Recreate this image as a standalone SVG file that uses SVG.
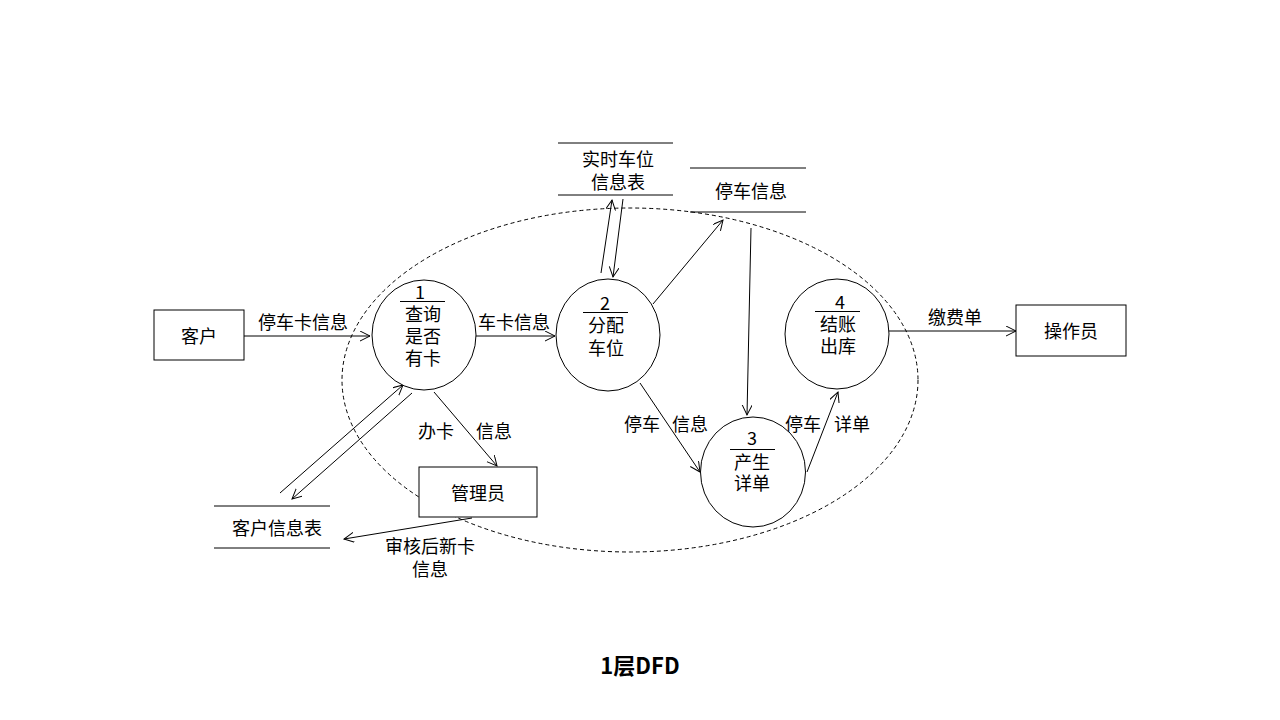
<svg xmlns="http://www.w3.org/2000/svg" width="1280" height="720" viewBox="0 0 1280 720">
<defs>
<style>
text{font-family:"Noto Sans CJK SC","Liberation Sans",sans-serif;font-size:18px;fill:#000;text-anchor:middle;dominant-baseline:central}
.box{fill:#fff;stroke:#000;stroke-width:1}
.proc{fill:#fff;stroke:#000;stroke-width:1}
.st{stroke:#000;stroke-width:1;fill:none}
.c{stroke:#000;stroke-width:1;fill:none;marker-end:url(#ah)}
.title{font-size:22px;font-weight:bold}
</style>
<marker id="ah" markerWidth="12" markerHeight="12" refX="10" refY="5" orient="auto" markerUnits="userSpaceOnUse">
<path d="M0,0 L10,5 L0,10" fill="none" stroke="#000" stroke-width="1"/>
</marker>
</defs>
<rect width="1280" height="720" fill="#fff"/>
<ellipse id="boundary" cx="630" cy="380" rx="288" ry="172" fill="none" stroke="#000" stroke-width="1" stroke-dasharray="4,3"/>

<g id="connectors">
<line class="c" x1="244" y1="336" x2="370" y2="336"/>
<line class="c" x1="476" y1="336" x2="555" y2="336"/>
<line class="c" x1="434" y1="392" x2="497" y2="466"/>
<line class="c" x1="280" y1="493" x2="403" y2="385"/>
<line class="c" x1="412" y1="393" x2="292" y2="499"/>
<line class="c" x1="472" y1="518" x2="344" y2="539"/>
<line class="c" x1="601" y1="273" x2="612" y2="200"/>
<line class="c" x1="623" y1="199" x2="613" y2="277"/>
<line class="c" x1="653" y1="304" x2="723" y2="220"/>
<line class="c" x1="751" y1="228" x2="747" y2="415"/>
<line class="c" x1="640" y1="383" x2="700" y2="472"/>
<line class="c" x1="807" y1="472" x2="838" y2="392"/>
<line class="c" x1="889" y1="331" x2="1016" y2="331"/>
<text x="303" y="321">停车卡信息</text>
<text x="514" y="321">车卡信息</text>
<text x="436" y="430">办卡</text>
<text x="494" y="430">信息</text>
<text x="430" y="545">审核后新卡</text>
<text x="430" y="568">信息</text>
<text x="642" y="423">停车</text>
<text x="690" y="423">信息</text>
<text x="803" y="423">停车</text>
<text x="852" y="423">详单</text>
<text x="955" y="316">缴费单</text>
</g>

<g id="customer">
<rect class="box" x="154" y="310" width="90" height="50"/>
<text x="199" y="335">客户</text>
</g>
<g id="admin">
<rect class="box" x="419" y="467" width="118" height="50"/>
<text x="478" y="492">管理员</text>
</g>
<g id="operator">
<rect class="box" x="1016" y="305" width="110" height="51"/>
<text x="1071" y="330">操作员</text>
</g>

<g id="store-customer">
<line class="st" x1="214" y1="506" x2="330" y2="506"/>
<line class="st" x1="214" y1="548" x2="330" y2="548"/>
<text x="277" y="527">客户信息表</text>
</g>
<g id="store-realtime">
<line class="st" x1="558" y1="143" x2="673" y2="143"/>
<line class="st" x1="558" y1="195" x2="673" y2="195"/>
<text x="618" y="158">实时车位</text>
<text x="618" y="181">信息表</text>
</g>
<g id="store-parking">
<line class="st" x1="690" y1="168" x2="806" y2="168"/>
<line class="st" x1="690" y1="212" x2="806" y2="212"/>
<text x="751" y="190">停车信息</text>
</g>

<g id="p1">
<ellipse class="proc" cx="424" cy="335" rx="52" ry="55"/>
<text x="420" y="291">1</text>
<line class="st" x1="400" y1="301.5" x2="445" y2="301.5"/>
<text x="423" y="313">查询</text>
<text x="423" y="335">是否</text>
<text x="423" y="357">有卡</text>
</g>
<g id="p2">
<ellipse class="proc" cx="608" cy="335" rx="52" ry="56"/>
<text x="605" y="302">2</text>
<line class="st" x1="583" y1="312.5" x2="628" y2="312.5"/>
<text x="606" y="324">分配</text>
<text x="606" y="347">车位</text>
</g>
<g id="p3">
<ellipse class="proc" cx="753" cy="472" rx="52.5" ry="55"/>
<text x="752" y="437">3</text>
<line class="st" x1="730" y1="449.5" x2="775" y2="449.5"/>
<text x="752" y="461">产生</text>
<text x="752" y="482">详单</text>
</g>
<g id="p4">
<ellipse class="proc" cx="837" cy="334" rx="52" ry="55"/>
<text x="840" y="301">4</text>
<line class="st" x1="815" y1="311.5" x2="860" y2="311.5"/>
<text x="838" y="323">结账</text>
<text x="838" y="345">出库</text>
</g>

<text class="title" x="640" y="664">1层DFD</text>
</svg>
